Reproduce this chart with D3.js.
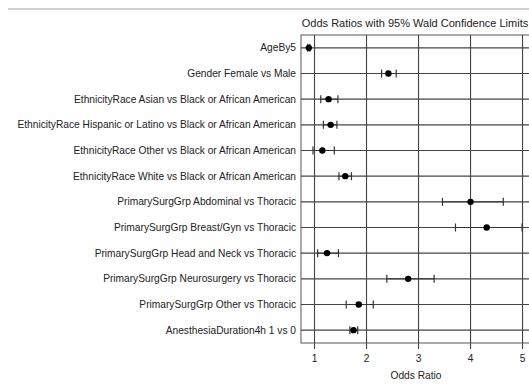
<!DOCTYPE html>
<html>
<head>
<meta charset="utf-8">
<script src="https://cdn.jsdelivr.net/npm/d3@7"></script>
<style>
html,body{margin:0;padding:0;background:#fff;overflow:hidden;}
svg{display:block;font-family:"Liberation Sans",Arial,sans-serif;}
</style>
</head>
<body>
<svg id="chart" width="529" height="384"></svg>
<script>
const effects = [
  "AgeBy5",
  "Gender Female vs Male",
  "EthnicityRace Asian vs Black or African American",
  "EthnicityRace Hispanic or Latino vs Black or African American",
  "EthnicityRace Other vs Black or African American",
  "EthnicityRace White vs Black or African American",
  "PrimarySurgGrp Abdominal vs Thoracic",
  "PrimarySurgGrp Breast/Gyn vs Thoracic",
  "PrimarySurgGrp Head and Neck vs Thoracic",
  "PrimarySurgGrp Neurosurgery vs Thoracic",
  "PrimarySurgGrp Other vs Thoracic",
  "AnesthesiaDuration4h 1 vs 0"
];
const oddsRatio = [0.89, 2.42, 1.27, 1.31, 1.15, 1.59, 4.00, 4.31, 1.24, 2.80, 1.85, 1.75];
const lowerCL   = [0.87, 2.29, 1.12, 1.17, 0.97, 1.47, 3.46, 3.71, 1.06, 2.39, 1.61, 1.68];
const upperCL   = [0.91, 2.57, 1.45, 1.43, 1.38, 1.71, 4.63, 4.99, 1.46, 3.30, 2.13, 1.83];
const xTicks = [1, 2, 3, 4, 5];
const title = "Odds Ratios with 95% Wald Confidence Limits";
const xLabel = "Odds Ratio";

const svg = d3.select("#chart");
const pLeft = 301, pTop = 35, pBottom = 343, pRight = 560;

// top separator line
svg.append("rect").attr("x", 8).attr("y", 8).attr("width", 530).attr("height", 2).attr("fill", "#d0d0d0");

const x = d3.scaleLinear().domain([0.74, 5.72]).range([pLeft, pRight]);
const y = d3.scalePoint().domain(effects).range([pTop, pBottom]).padding(0.5);

// grid
const g = svg.append("g");
g.selectAll("line.vg").data(xTicks).join("line")
  .attr("x1", d => x(d)).attr("x2", d => x(d))
  .attr("y1", pTop).attr("y2", pBottom + 6)
  .attr("stroke", "#444").attr("stroke-width", 1.1);
g.selectAll("line.hg").data(effects).join("line")
  .attr("x1", pLeft).attr("x2", pRight)
  .attr("y1", d => y(d)).attr("y2", d => y(d))
  .attr("stroke", "#444").attr("stroke-width", 1.1);

// frame
g.append("rect").attr("x", pLeft).attr("y", pTop).attr("width", pRight - pLeft).attr("height", pBottom - pTop)
  .attr("fill", "none").attr("stroke", "#555").attr("stroke-width", 1);

// CI and points
const rows = effects.map((e, i) => ({e, or: oddsRatio[i], lo: lowerCL[i], hi: upperCL[i]}));
g.selectAll("line.ci").data(rows).join("line")
  .attr("x1", d => x(d.lo)).attr("x2", d => x(d.hi))
  .attr("y1", d => y(d.e)).attr("y2", d => y(d.e))
  .attr("stroke", "#333").attr("stroke-width", 1);
["lo", "hi"].forEach(k => {
  g.selectAll("line.cap" + k).data(rows).join("line")
    .attr("x1", d => x(d[k])).attr("x2", d => x(d[k]))
    .attr("y1", d => y(d.e) - 4).attr("y2", d => y(d.e) + 4)
    .attr("stroke", "#333").attr("stroke-width", 1.2);
});
g.selectAll("circle").data(rows).join("circle")
  .attr("cx", d => x(d.or)).attr("cy", d => y(d.e)).attr("r", 3.2)
  .attr("fill", "#000");

// row labels
svg.selectAll("text.lab").data(effects).join("text")
  .attr("x", 296).attr("y", d => y(d)).attr("dy", "0.35em")
  .attr("text-anchor", "end").attr("font-size", 10.2).attr("fill", "#222")
  .text(d => d);

// x tick labels
svg.selectAll("text.tick").data(xTicks).join("text")
  .attr("x", d => x(d)).attr("y", 362)
  .attr("text-anchor", "middle").attr("font-size", 10.2).attr("fill", "#222")
  .text(d => d);

svg.append("text").attr("x", 416).attr("y", 379).attr("text-anchor", "middle")
  .attr("font-size", 10.2).attr("fill", "#222").text(xLabel);
svg.append("text").attr("x", 415).attr("y", 27).attr("text-anchor", "middle")
  .attr("font-size", 11).attr("fill", "#222").text(title);
</script>
</body>
</html>
